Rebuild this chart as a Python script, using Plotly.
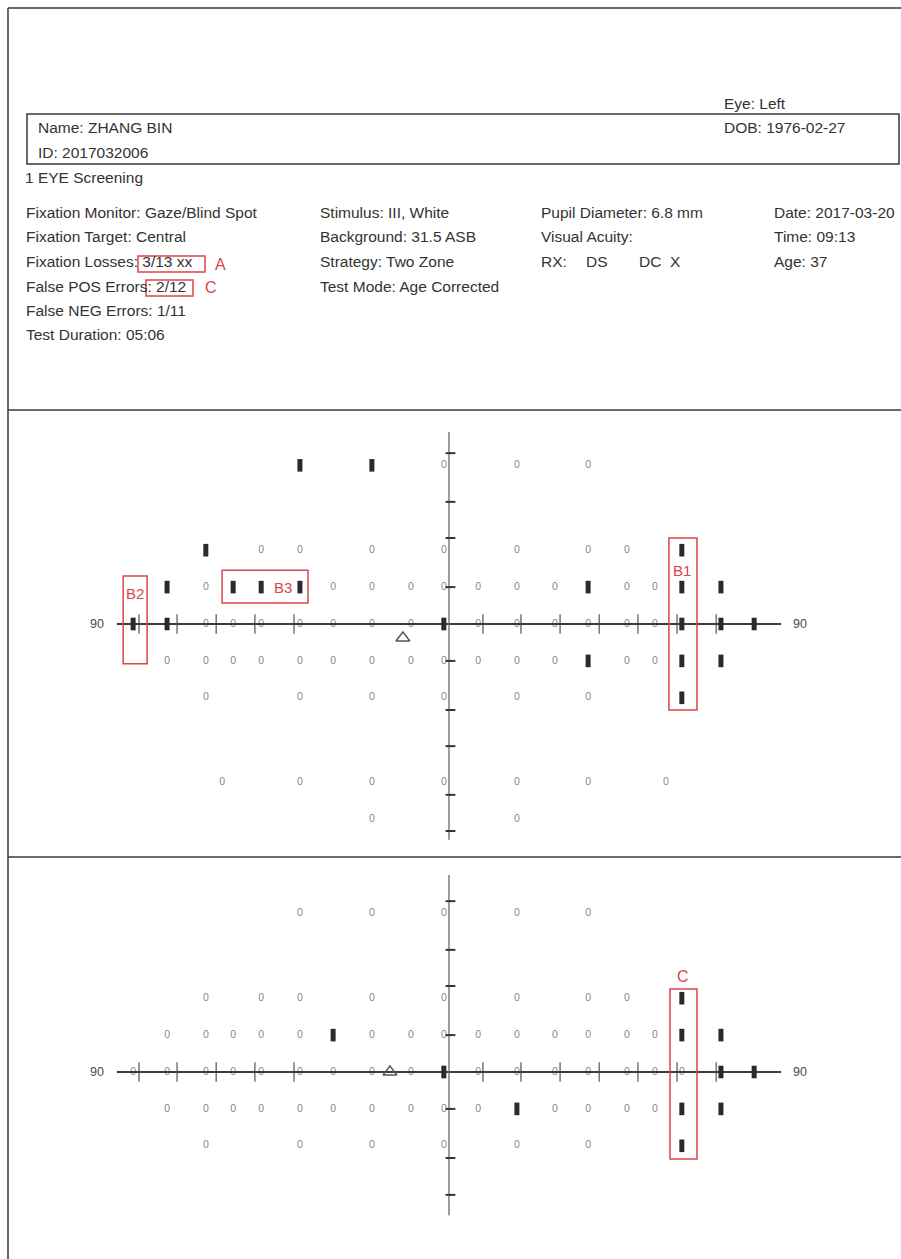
import plotly.graph_objects as go

# ---------------- data (degrees of visual field) ----------------
# Upper plot: x, y, status ("0" = seen, "M" = missed)
UPPER_X = [-40.4, -20.9, -1.4, 18.4, 37.7,
           -65.9, -50.9, -40.4, -20.9, -1.4, 18.4, 37.7, 48.2, 63.1,
           -76.4, -65.9, -58.5, -50.9, -40.4, -31.4, -20.9, -10.3, -1.4, 7.9, 18.4, 28.7, 37.7, 48.2, 55.8, 63.1, 73.7,
           -85.6, -76.4, -65.9, -58.5, -50.9, -40.4, -31.4, -20.9, -10.3, -1.4, 7.9, 18.4, 28.7, 37.7, 48.2, 55.8, 63.1, 73.7, 82.7,
           -76.4, -65.9, -58.5, -50.9, -40.4, -31.4, -20.9, -10.3, -1.4, 7.9, 18.4, 28.7, 37.7, 48.2, 55.8, 63.1, 73.7,
           -65.9, -40.4, -20.9, -1.4, 18.4, 37.7, 63.1,
           -61.5, -40.4, -20.9, -1.4, 18.4, 37.7, 58.8,
           -20.9, 18.4]
UPPER_Y = [43] * 5 + [20] * 9 + [10] * 17 + [0] * 19 + [-10] * 17 + [-20] * 7 + [-43] * 7 + [-53] * 2
UPPER_S = (["M", "M", "0", "0", "0"] +
           ["M", "0", "0", "0", "0", "0", "0", "0", "M"] +
           ["M", "0", "M", "M", "M", "0", "0", "0", "0", "0", "0", "0", "M", "0", "0", "M", "M"] +
           ["M", "M", "0", "0", "0", "0", "0", "0", "0", "M", "0", "0", "0", "0", "0", "0", "M", "M", "M"] +
           ["0", "0", "0", "0", "0", "0", "0", "0", "0", "0", "0", "0", "M", "0", "0", "M", "M"] +
           ["0", "0", "0", "0", "0", "0", "M"] +
           ["0"] * 7 + ["0"] * 2)

# Lower plot
LOWER_X = [-40.4, -20.9, -1.4, 18.4, 37.7,
           -65.9, -50.9, -40.4, -20.9, -1.4, 18.4, 37.7, 48.2, 63.1,
           -76.4, -65.9, -58.5, -50.9, -40.4, -31.4, -20.9, -10.3, -1.4, 7.9, 18.4, 28.7, 37.7, 48.2, 55.8, 63.1, 73.7,
           -85.6, -76.4, -65.9, -58.5, -50.9, -40.4, -31.4, -20.9, -10.3, -1.4, 7.9, 18.4, 28.7, 37.7, 48.2, 55.8, 63.1, 73.7, 82.7,
           -76.4, -65.9, -58.5, -50.9, -40.4, -31.4, -20.9, -10.3, -1.4, 7.9, 18.4, 28.7, 37.7, 48.2, 55.8, 63.1, 73.7,
           -65.9, -40.4, -20.9, -1.4, 18.4, 37.7, 63.1]
LOWER_Y = [43] * 5 + [20] * 9 + [10] * 17 + [0] * 19 + [-10] * 17 + [-20] * 7
LOWER_S = (["0"] * 5 +
           ["0", "0", "0", "0", "0", "0", "0", "0", "M"] +
           ["0", "0", "0", "0", "0", "M", "0", "0", "0", "0", "0", "0", "0", "0", "0", "M", "M"] +
           ["0", "0", "0", "0", "0", "0", "0", "0", "0", "M", "0", "0", "0", "0", "0", "0", "0", "M", "M"] +
           ["0", "0", "0", "0", "0", "0", "0", "0", "0", "0", "M", "0", "0", "0", "0", "M", "M"] +
           ["0", "0", "0", "0", "0", "0", "M"])

# fixation / blind-spot triangle
UPPER_TRI = (-12.5, -3.8)
LOWER_TRI = (-16.0, 0.0)

# axes
H_AXIS = [-90, 90]
UPPER_V_AXIS = [52.0, -58.5]
LOWER_V_AXIS = [53.4, -38.8]
H_TICKS = [-84.0, -73.7, -63.1, -52.6, -42.0, 9.2, 19.5, 30.1, 40.7, 51.2, 61.8, 72.4]
UPPER_V_TICKS = [46.3, 33.1, 23.3, 10.0, -10.0, -23.3, -33.1, -46.3, -56.1]
LOWER_V_TICKS = [46.3, 33.1, 23.3, 10.0, -10.0, -23.3, -33.3]

# ---------------- layout constants ----------------
W, H = 901, 1259
S = 3.69  # px per degree
CX = 449
P1_CY, P1_TOP, P1_BOT = 624, 411, 856
P2_CY, P2_TOP, P2_BOT = 1072, 858, 1259

FONT = "Liberation Sans, Arial, sans-serif"
INK = "#333333"
RED = "#d9464b"

fig = go.Figure()


def add_panel(xs, ys, st, tri, vaxis, vticks, xa, ya):
    # axis lines
    fig.add_trace(go.Scatter(x=H_AXIS, y=[0, 0], mode="lines",
                             line=dict(color="#3c3c3c", width=2), xaxis=xa, yaxis=ya,
                             hoverinfo="skip", showlegend=False))
    fig.add_trace(go.Scatter(x=[0, 0], y=vaxis, mode="lines",
                             line=dict(color="#666666", width=1.3), xaxis=xa, yaxis=ya,
                             hoverinfo="skip", showlegend=False))
    # ticks
    fig.add_trace(go.Scatter(x=H_TICKS, y=[0] * len(H_TICKS), mode="markers",
                             marker=dict(symbol="line-ns", size=14,
                                         line=dict(color="#444444", width=1.1)),
                             xaxis=xa, yaxis=ya, hoverinfo="skip", showlegend=False))
    fig.add_trace(go.Scatter(x=[0.4] * len(vticks), y=vticks, mode="markers",
                             marker=dict(symbol="line-ew", size=7,
                                         line=dict(color="#333333", width=2)),
                             xaxis=xa, yaxis=ya, hoverinfo="skip", showlegend=False))
    # seen points
    sx = [x for x, s in zip(xs, st) if s == "0"]
    sy = [y for y, s in zip(ys, st) if s == "0"]
    fig.add_trace(go.Scatter(x=sx, y=sy, mode="text", text=["0"] * len(sx),
                             textfont=dict(family=FONT, size=10.5, color="rgba(40,40,40,0.6)"),
                             xaxis=xa, yaxis=ya, hoverinfo="skip", showlegend=False))
    # missed points
    mx = [x for x, s in zip(xs, st) if s == "M"]
    my = [y for y, s in zip(ys, st) if s == "M"]
    fig.add_trace(go.Scatter(x=mx, y=my, mode="markers",
                             marker=dict(symbol="line-ns", size=9,
                                         line=dict(color="#2a2a2a", width=5)),
                             xaxis=xa, yaxis=ya, hoverinfo="skip", showlegend=False))
    # triangle
    fig.add_trace(go.Scatter(x=[tri[0]], y=[tri[1]], mode="markers",
                             marker=dict(symbol="triangle-up-open", size=12,
                                         color="#555555", line=dict(width=1.4)),
                             xaxis=xa, yaxis=ya, hoverinfo="skip", showlegend=False))


add_panel(UPPER_X, UPPER_Y, UPPER_S, UPPER_TRI, UPPER_V_AXIS, UPPER_V_TICKS, "x", "y")
add_panel(LOWER_X, LOWER_Y, LOWER_S, LOWER_TRI, LOWER_V_AXIS, LOWER_V_TICKS, "x2", "y2")


def xrng():
    return [(0 - CX) / S, (W - CX) / S]


def yrng(cy, top, bot):
    return [-(bot - cy) / S, (cy - top) / S]


def ydom(top, bot):
    return [1 - bot / H, 1 - top / H]


ax_common = dict(visible=False, showgrid=False, zeroline=False, fixedrange=True)
fig.update_layout(
    width=W, height=H, margin=dict(l=0, r=0, t=0, b=0),
    paper_bgcolor="white", plot_bgcolor="white", showlegend=False,
    xaxis=dict(domain=[0, 1], range=xrng(), anchor="y", **ax_common),
    yaxis=dict(domain=ydom(P1_TOP, P1_BOT), range=yrng(P1_CY, P1_TOP, P1_BOT), anchor="x", **ax_common),
    xaxis2=dict(domain=[0, 1], range=xrng(), anchor="y2", **ax_common),
    yaxis2=dict(domain=ydom(P2_TOP, P2_BOT), range=yrng(P2_CY, P2_TOP, P2_BOT), anchor="x2", **ax_common),
)


def px(x, y):
    return x / W, 1 - y / H


annotations = []
shapes = []


def text(x, y, s, size=15.5, color=INK, anchor="left"):
    ax, ay = px(x, y)
    annotations.append(dict(x=ax, y=ay, xref="paper", yref="paper", text=s, showarrow=False,
                            xanchor=anchor, yanchor="middle",
                            font=dict(family=FONT, size=size, color=color)))


def pline(x0, y0, x1, y1, color="#3a3a3a", width=1.5):
    a0, b0 = px(x0, y0)
    a1, b1 = px(x1, y1)
    shapes.append(dict(type="line", xref="paper", yref="paper", x0=a0, y0=b0, x1=a1, y1=b1,
                       line=dict(color=color, width=width)))


def prect(x0, y0, x1, y1, color, width=1.5):
    a0, b0 = px(x0, y0)
    a1, b1 = px(x1, y1)
    shapes.append(dict(type="rect", xref="paper", yref="paper", x0=a0, y0=b0, x1=a1, y1=b1,
                       line=dict(color=color, width=width)))


# page frame
pline(8, 8, W, 8)
pline(8, 8, 8, H)
pline(8, 410, W, 410)
pline(8, 857, W, 857)
prect(27, 114, 899, 164, "#3a3a3a", 1.5)

# header texts
text(722, 103, "Eye: Left")
text(36, 128, "Name: ZHANG BIN")
text(722, 128, "DOB: 1976-02-27")
text(36, 152, "ID: 2017032006")
text(23, 177, "1 EYE Screening")

col1 = ["Fixation Monitor: Gaze/Blind Spot", "Fixation Target: Central", "Fixation Losses: 3/13 xx",
        "False POS Errors: 2/12", "False NEG Errors: 1/11", "Test Duration: 05:06"]
col2 = ["Stimulus: III, White", "Background: 31.5 ASB", "Strategy: Two Zone", "Test Mode: Age Corrected"]
col3 = ["Pupil Diameter: 6.8 mm", "Visual Acuity:"]
col4 = ["Date: 2017-03-20", "Time: 09:13", "Age: 37"]
rows_y = [213, 237, 262, 287, 311, 335]
for i, s in enumerate(col1):
    text(24, rows_y[i], s)
for i, s in enumerate(col2):
    text(318, rows_y[i], s)
for i, s in enumerate(col3):
    text(539, rows_y[i], s)
text(539, 262, "RX:")
text(584, 262, "DS")
text(637, 262, "DC")
text(668, 262, "X")
for i, s in enumerate(col4):
    text(772, rows_y[i], s)

# header highlight boxes
prect(138, 256, 205, 272, RED, 1.5)
text(213, 264, "A", size=16, color=RED)
prect(146, 280, 193, 296, RED, 1.5)
text(203, 288, "C", size=16, color=RED)

# "90" labels on both plots
for xa, ya in (("x", "y"), ("x2", "y2")):
    annotations.append(dict(x=H_AXIS[0], y=0, xref=xa, yref=ya, text="90", showarrow=False,
                            xanchor="right", yanchor="middle", xshift=-11,
                            font=dict(family=FONT, size=12.5, color="#4a4a4a")))
    annotations.append(dict(x=H_AXIS[1], y=0, xref=xa, yref=ya, text="90", showarrow=False,
                            xanchor="left", yanchor="middle", xshift=10,
                            font=dict(family=FONT, size=12.5, color="#4a4a4a")))


# red highlight boxes in the plots
def drect(x0, y0, x1, y1, xa, ya):
    shapes.append(dict(type="rect", xref=xa, yref=ya, x0=x0, y0=y0, x1=x1, y1=y1,
                       line=dict(color=RED, width=1.5)))


def dlabel(x, y, s, xa, ya, size=15):
    annotations.append(dict(x=x, y=y, xref=xa, yref=ya, text=s, showarrow=False,
                            xanchor="center", yanchor="middle",
                            font=dict(family=FONT, size=size, color=RED)))


drect(-88.3, 13.0, -81.8, -10.8, "x", "y")
dlabel(-85.1, 8.4, "B2", "x", "y")
drect(-61.5, 14.6, -38.2, 5.7, "x", "y")
dlabel(-44.9, 10.0, "B3", "x", "y")
drect(59.6, 23.3, 67.2, -23.3, "x", "y")
dlabel(63.1, 14.4, "B1", "x", "y")
drect(59.9, 22.5, 67.2, -23.6, "x2", "y2")
dlabel(63.4, 26.0, "C", "x2", "y2", size=16)

fig.update_layout(annotations=annotations, shapes=shapes)
fig.write_html("out.html")
